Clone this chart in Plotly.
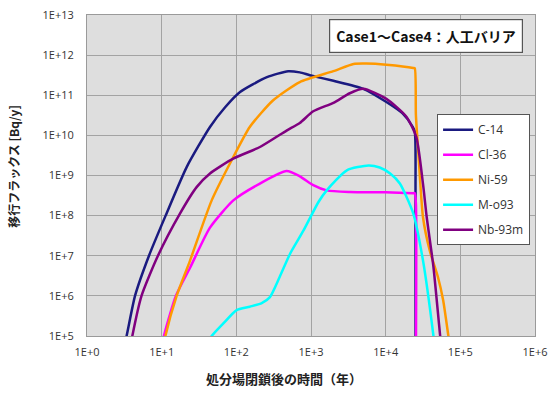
import plotly.graph_objects as go

# Migration flux of each nuclide: log10(time [y]) and log10(flux [Bq/y])
c14_logt = [0.50, 0.53, 0.643, 0.83, 1.053, 1.335, 1.647, 1.85, 2.05, 2.41, 2.695, 2.85, 2.985, 3.30, 3.70, 4.01, 4.23, 4.36, 4.39, 4.40, 4.40]
c14_logf = [4.80, 5.00, 6.00, 7.00, 8.00, 9.21, 10.21, 10.70, 11.08, 11.45, 11.60, 11.57, 11.50, 11.36, 11.16, 10.83, 10.54, 10.22, 10.10, 8.60, 4.50]

cl36_logt = [0.99, 1.03, 1.19, 1.38, 1.647, 1.96, 2.316, 2.673, 2.85, 3.03, 3.21, 3.52, 4.00, 4.37, 4.39, 4.405, 4.405]
cl36_logf = [4.60, 5.00, 6.00, 6.70, 7.70, 8.38, 8.80, 9.11, 8.98, 8.76, 8.63, 8.59, 8.58, 8.56, 8.56, 8.30, 4.50]

ni59_logt = [1.00, 1.05, 1.20, 1.38, 1.67, 1.937, 2.18, 2.49, 2.85, 3.30, 3.57, 3.74, 4.01, 4.37, 4.39, 4.405, 4.44, 4.50, 4.59, 4.70, 4.77, 4.84, 4.88]
ni59_logf = [4.50, 5.00, 6.00, 6.88, 8.38, 9.38, 10.21, 10.87, 11.33, 11.60, 11.78, 11.79, 11.76, 11.68, 11.67, 10.50, 9.50, 7.96, 7.13, 6.47, 5.89, 5.00, 4.50]

mo93_logt = [1.62, 1.67, 1.82, 2.00, 2.18, 2.34, 2.45, 2.58, 2.72, 2.90, 3.10, 3.21, 3.48, 3.77, 3.92, 4.06, 4.19, 4.37, 4.50, 4.64, 4.67]
mo93_logf = [4.85, 5.00, 5.30, 5.64, 5.73, 5.82, 5.97, 6.47, 7.05, 7.63, 8.34, 8.63, 9.13, 9.25, 9.20, 9.05, 8.80, 8.05, 6.88, 5.00, 4.50]

nb93m_logt = [0.56, 0.607, 0.73, 0.95, 1.245, 1.468, 1.647, 1.958, 2.316, 2.673, 2.85, 3.03, 3.30, 3.52, 3.70, 4.01, 4.28, 4.41, 4.50, 4.55, 4.64, 4.73, 4.76]
nb93m_logf = [4.50, 5.00, 6.00, 7.00, 8.05, 8.71, 9.05, 9.42, 9.71, 10.12, 10.31, 10.60, 10.81, 11.05, 11.16, 10.91, 10.46, 9.96, 8.79, 7.96, 6.72, 5.00, 4.50]

series_names = ["C-14", "Cl-36", "Ni-59", "M-o93", "Nb-93m"]
series_colors = ["#1a1a80", "#ff00ff", "#ff9900", "#00ffff", "#800080"]

x_tick_vals = [1e0, 1e1, 1e2, 1e3, 1e4, 1e5, 1e6]
x_tick_text = ["1E+0", "1E+1", "1E+2", "1E+3", "1E+4", "1E+5", "1E+6"]
y_tick_vals = [1e5, 1e6, 1e7, 1e8, 1e9, 1e10, 1e11, 1e12, 1e13]
y_tick_text = ["1E+5", "1E+6", "1E+7", "1E+8", "1E+9", "1E+10", "1E+11", "1E+12", "1E+13"]

x_title = "処分場閉鎖後の時間（年）"
y_title = "移行フラックス [Bq/y]"
case_label = "Case1～Case4：人工バリア"

series = [
    (c14_logt, c14_logf),
    (cl36_logt, cl36_logf),
    (ni59_logt, ni59_logf),
    (mo93_logt, mo93_logf),
    (nb93m_logt, nb93m_logf),
]

fig = go.Figure()
for (lt, lf), name, color in zip(series, series_names, series_colors):
    fig.add_trace(go.Scatter(
        x=[10 ** v for v in lt],
        y=[10 ** v for v in lf],
        mode="lines",
        name=name,
        legendgroup=name,
        line=dict(color=color, width=2.5, shape="spline", smoothing=0.6),
    ))

tick_font = dict(family="Open Sans, Noto Sans, sans-serif", size=11, color="#333333")
grid_color = "#a3a3a3"

fig.update_layout(
    width=549,
    height=394,
    margin=dict(l=87, r=14, t=15, b=58, autoexpand=False),
    paper_bgcolor="white",
    plot_bgcolor="#dedede",
    showlegend=True,
    legend=dict(
        x=0.989, y=0.691, xanchor="right", yanchor="top",
        bgcolor="white", bordercolor="#555555", borderwidth=1,
        font=dict(family="Open Sans, Noto Sans, sans-serif", size=12, color="#333333"),
        tracegroupgap=6,
        traceorder="grouped",
        itemwidth=30,
    ),
    xaxis=dict(
        type="log", range=[0, 6],
        tickvals=x_tick_vals, ticktext=x_tick_text,
        showgrid=True, gridcolor=grid_color, gridwidth=1.3,
        ticks="outside", ticklen=6, tickcolor="rgba(0,0,0,0)",
        tickfont=tick_font,
        showline=True, linecolor="#9a9a9a", linewidth=1, mirror=True,
        zeroline=False,
    ),
    yaxis=dict(
        type="log", range=[5, 13],
        tickvals=y_tick_vals, ticktext=y_tick_text,
        showgrid=True, gridcolor=grid_color, gridwidth=1.3,
        ticks="outside", ticklen=10, tickcolor="rgba(0,0,0,0)",
        tickfont=tick_font,
        showline=True, linecolor="#9a9a9a", linewidth=1, mirror=True,
        zeroline=False,
    ),
    annotations=[
        dict(
            text=case_label, xref="paper", yref="paper",
            x=0.756, y=0.934, xanchor="center", yanchor="middle",
            showarrow=False,
            font=dict(family="Noto Sans CJK JP", size=14, color="#111111", weight="bold"),
            bgcolor="white", bordercolor="#555555", borderwidth=1.2, borderpad=6,
        ),
        dict(
            text=x_title, xref="paper", yref="paper",
            x=0.262, y=-0.098, xanchor="left", yanchor="top",
            showarrow=False,
            font=dict(family="Noto Sans CJK JP", size=13, color="#222222", weight="bold"),
        ),
        dict(
            text=y_title, xref="paper", yref="paper",
            x=-0.163, y=0.53, xanchor="center", yanchor="middle",
            showarrow=False, textangle=-90,
            font=dict(family="Noto Sans CJK JP", size=12, color="#222222", weight="bold"),
        ),
    ],
)

fig.write_html("out.html")
